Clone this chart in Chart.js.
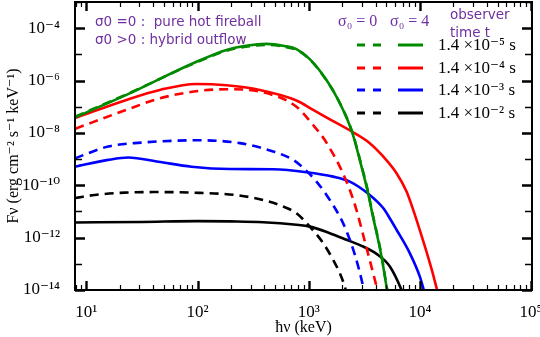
<!DOCTYPE html>
<html><head><meta charset="utf-8">
<script src="https://cdn.jsdelivr.net/npm/chart.js@4/dist/chart.umd.min.js"></script>
<style>html,body{margin:0;padding:0;background:#fff}#wrap{width:540px;height:337px}</style>
</head><body><div id="wrap"><canvas id="c" width="540" height="337"></canvas></div>
<script>
// ---- data (keV, erg cm^-2 s^-1 keV^-1) ----
const timeLabels = ['1.4 ×10⁻⁵ s', '1.4 ×10⁻⁴ s', '1.4 ×10⁻³ s', '1.4 ×10⁻² s'];
const seriesColors = ['#008a00', '#ff0000', '#0000ff', '#000000'];
const sigmaLabels = ['σ₀ = 0', 'σ₀ = 4'];
const noteLines = ['σ0 =0 :  pure hot fireball', 'σ0 >0 : hybrid outflow'];
const observerLines = ['observer', 'time t'];

const energyT5 = [7.94, 22.9, 91.2, 182, 282, 417, 603, 776, 1023, 1445, 1841, 2449, 2985, 3420, 3673, 4519, 5012, 5248];
const fluxT5Sigma4 = [3.98e-8, 2.82e-7, 4.57e-6, 1.48e-5, 2.19e-5, 2.51e-5, 2.09e-5, 1.58e-5, 6.61e-6, 1.05e-6, 1.82e-7, 1.12e-8, 5.13e-10, 5.01e-11, 1.15e-11, 1.91e-13, 1.35e-14, 5.0e-15];
const fluxT5Sigma0 = [4.17e-8, 2.95e-7, 4.37e-6, 1.38e-5, 2.00e-5, 2.29e-5, 1.95e-5, 1.48e-5, 6.31e-6, 1.02e-6, 1.82e-7, 1.17e-8, 5.62e-10, 5.62e-11, 1.26e-11, 2.09e-13, 1.48e-14, 5.0e-15];

const energyT4Sigma4 = [7.94, 22.9, 45.7, 97.7, 182, 363, 776, 1096, 1549, 2449, 3540, 4677, 6166, 7586, 8710, 10000, 11482, 12882, 14289, 15136];
const fluxT4Sigma4 = [3.72e-8, 1.82e-7, 4.37e-7, 7.41e-7, 6.61e-7, 4.37e-7, 1.74e-7, 7.59e-8, 3.31e-8, 1.12e-8, 4.07e-9, 1.26e-9, 2.88e-10, 5.75e-11, 1.15e-11, 1.91e-12, 2.88e-13, 5.37e-14, 1.0e-14, 4.0e-15];
const energyT4Sigma0 = [7.94, 22.9, 45.7, 105, 209, 417, 776, 1096, 1396, 1603, 1905, 2344, 2692, 3199, 3936, 4266];
const fluxT4Sigma0 = [1.45e-8, 7.59e-8, 2.09e-7, 4.07e-7, 4.68e-7, 3.31e-7, 1.0e-7, 2.0e-8, 5.37e-9, 2.0e-9, 5.13e-10, 6.61e-11, 1.12e-11, 7.08e-13, 2.45e-14, 6.3e-15];

const energyT3Sigma4 = [7.89, 15.7, 23.8, 44.3, 88.3, 195, 479, 955, 1660, 2344, 3540, 4677, 5358, 6166, 8110, 9977, 10839, 11482];
const fluxT3Sigma4 = [5.13e-10, 9.33e-10, 1.15e-9, 7.94e-10, 5.13e-10, 4.17e-10, 4.07e-10, 3.16e-10, 2.14e-10, 1.38e-10, 4.27e-11, 1.35e-11, 5.5e-12, 2.0e-12, 2.57e-13, 3.31e-14, 1.0e-14, 4.0e-15];
const energyT3Sigma0 = [7.89, 15.7, 31.3, 62.5, 100, 240, 479, 724, 955, 1175, 1445, 1905, 2188, 2600, 3090, 3236];
const fluxT3Sigma0 = [1.07e-9, 3.02e-9, 4.27e-9, 5.01e-9, 5.25e-9, 4.07e-9, 1.95e-9, 9.33e-10, 3.55e-10, 1.38e-10, 4.27e-11, 6.31e-12, 1.78e-12, 2.24e-13, 1.35e-14, 5.0e-15];

const energyT2Sigma4 = [7.89, 31.6, 100, 195, 389, 776, 1023, 1549, 2188, 3090, 4074, 5370, 6839, 7244];
const fluxT2Sigma4 = [3.80e-12, 3.98e-12, 4.27e-12, 4.17e-12, 3.89e-12, 3.09e-12, 2.63e-12, 1.48e-12, 8.32e-13, 4.57e-13, 2.40e-13, 7.94e-14, 1.0e-14, 5.0e-15];
const energyT2Sigma0 = [7.89, 11.9, 22.2, 44.3, 88.3, 216, 389, 589, 776, 1023, 1349, 1660, 1905, 2113, 2188];
const fluxT2Sigma0 = [3.24e-11, 4.27e-11, 5.25e-11, 5.50e-11, 5.25e-11, 4.27e-11, 2.75e-11, 1.55e-11, 8.51e-12, 2.63e-12, 6.17e-13, 1.41e-13, 4.37e-14, 1.35e-14, 7.9e-15];

const xTickValues = [10, 100, 1000, 10000, 100000];
const xTickLabels = ['10¹', '10²', '10³', '10⁴', '10⁵'];
const yTickValues = [1e-14, 1e-12, 1e-10, 1e-8, 1e-6, 1e-4];
const yTickLabels = ['10⁻¹⁴', '10⁻¹²', '10⁻¹⁰', '10⁻⁸', '10⁻⁶', '10⁻⁴'];
const xTitle = 'ħν (keV)';
const yTitle = 'Fν (erg cm⁻² s⁻¹ keV⁻¹)';

// ---- build ----
const pts = (e, f) => e.map((v, i) => ({x: v, y: f[i]}));
const dashedSets = [
  [energyT5, fluxT5Sigma0], [energyT4Sigma0, fluxT4Sigma0], [energyT3Sigma0, fluxT3Sigma0], [energyT2Sigma0, fluxT2Sigma0]
].map((s, i) => ({label: sigmaLabels[0] + ', t = ' + timeLabels[i], data: pts(s[0], s[1]),
  borderColor: seriesColors[i], borderDash: [9, 6], borderWidth: 2.6}));
const solidSets = [
  [energyT5, fluxT5Sigma4], [energyT4Sigma4, fluxT4Sigma4], [energyT3Sigma4, fluxT3Sigma4], [energyT2Sigma4, fluxT2Sigma4]
].map((s, i) => ({label: sigmaLabels[1] + ', t = ' + timeLabels[i], data: pts(s[0], s[1]),
  borderColor: seriesColors[i], borderWidth: 2.6}));

const isDecade = v => Math.abs(Math.log10(v) - Math.round(Math.log10(v))) < 1e-9;
const serif = "'Liberation Serif', 'DejaVu Serif', serif";
const purple = '#7030A0';

const decor = {
  id: 'decor',
  afterDatasetsDraw(chart) {
    const {ctx, chartArea: a, scales: {x, y}} = chart;
    ctx.save();
    ctx.strokeStyle = '#000';
    ctx.lineCap = 'butt';
    const xs = [];
    for (let d = 0; d <= 5; d++) for (let m = 1; m <= 9; m++) xs.push(m * Math.pow(10, d));
    xs.forEach(v => {
      if (v < x.min || v > x.max) return;
      const px = Math.round(x.getPixelForValue(v)) + 0.5;
      const major = isDecade(v);
      const len = major ? 9 : 5;
      ctx.lineWidth = major ? 2.4 : 1.2;
      ctx.beginPath();
      ctx.moveTo(px, a.bottom); ctx.lineTo(px, a.bottom - len);
      ctx.moveTo(px, a.top); ctx.lineTo(px, a.top + len);
      ctx.stroke();
    });
    for (let e = -14; e <= -3; e++) {
      const v = Math.pow(10, e);
      const py = Math.round(y.getPixelForValue(v)) + 0.5;
      const major = (e % 2 === 0);
      const len = major ? 10 : 7;
      ctx.lineWidth = major ? 2.6 : 1.3;
      ctx.beginPath();
      ctx.moveTo(a.left, py); ctx.lineTo(a.left + len, py);
      ctx.moveTo(a.right, py); ctx.lineTo(a.right - len, py);
      ctx.stroke();
    }
    ctx.lineWidth = 2;
    ctx.strokeRect(a.left, a.top, a.right - a.left, a.bottom - a.top);

    ctx.fillStyle = purple;
    ctx.textBaseline = 'middle';
    ctx.textAlign = 'left';
    ctx.font = "13.5px 'DejaVu Sans', sans-serif";
    ctx.fillText(noteLines[0], 95, 22);
    ctx.fillText(noteLines[1], 95, 40);
    ctx.fillText(observerLines[0], 450, 15);
    ctx.fillText(observerLines[1], 450, 33);
    ctx.font = '16px ' + serif;
    ctx.fillText(sigmaLabels[0], 338, 22);
    ctx.fillText(sigmaLabels[1], 390, 22);

    const rowY = [45, 68, 90, 113];
    rowY.forEach((ry, i) => {
      ctx.strokeStyle = seriesColors[i];
      ctx.lineWidth = 3;
      ctx.setLineDash([8, 8]);
      ctx.beginPath(); ctx.moveTo(357, ry); ctx.lineTo(381, ry); ctx.stroke();
      ctx.setLineDash([]);
      ctx.beginPath(); ctx.moveTo(398, ry); ctx.lineTo(423, ry); ctx.stroke();
      ctx.fillStyle = '#000';
      ctx.font = '17px ' + serif;
      ctx.fillText(timeLabels[i], 438, ry + 1);
    });
    ctx.restore();
  }
};

new Chart(document.getElementById('c'), {
  type: 'line',
  data: {datasets: dashedSets.concat(solidSets)},
  options: {
    responsive: false, animation: false, devicePixelRatio: 1,
    layout: {padding: {left: 0, right: 8, top: 2, bottom: 0}},
    elements: {point: {radius: 0}, line: {cubicInterpolationMode: 'monotone', fill: false}},
    plugins: {legend: {display: false}, tooltip: {enabled: false}},
    scales: {
      x: {
        type: 'logarithmic', min: 7.9, max: 1.02e5,
        grid: {display: false}, border: {display: false},
        afterBuildTicks: s => { s.ticks = xTickValues.map(v => ({value: v})); },
        afterFit: s => { s.height = 47; s.paddingLeft = 0; s.paddingRight = 0; },
        ticks: {autoSkip: false, maxRotation: 0, padding: 4, color: '#000',
          font: {family: serif, size: 17},
          callback: v => { const i = xTickValues.indexOf(v); return i >= 0 ? xTickLabels[i] : ''; }},
        title: {display: true, text: xTitle, color: '#000', font: {family: serif, size: 16}, padding: {top: 0, bottom: 0}}
      },
      y: {
        type: 'logarithmic', min: 1e-14, max: 1e-3,
        grid: {display: false}, border: {display: false},
        afterBuildTicks: s => { s.ticks = yTickValues.map(v => ({value: v})); },
        afterFit: s => { s.width = 75; s.paddingTop = 0; s.paddingBottom = 0; },
        ticks: {autoSkip: false, padding: 7, color: '#000',
          font: {family: serif, size: 17},
          callback: v => { const i = yTickValues.findIndex(t => Math.abs(t / v - 1) < 1e-6); return i >= 0 ? yTickLabels[i] : ''; }},
        title: {display: true, text: yTitle, color: '#000', font: {family: serif, size: 16}, padding: {top: 4, bottom: 0}}
      }
    }
  },
  plugins: [decor]
});
</script></body></html>
